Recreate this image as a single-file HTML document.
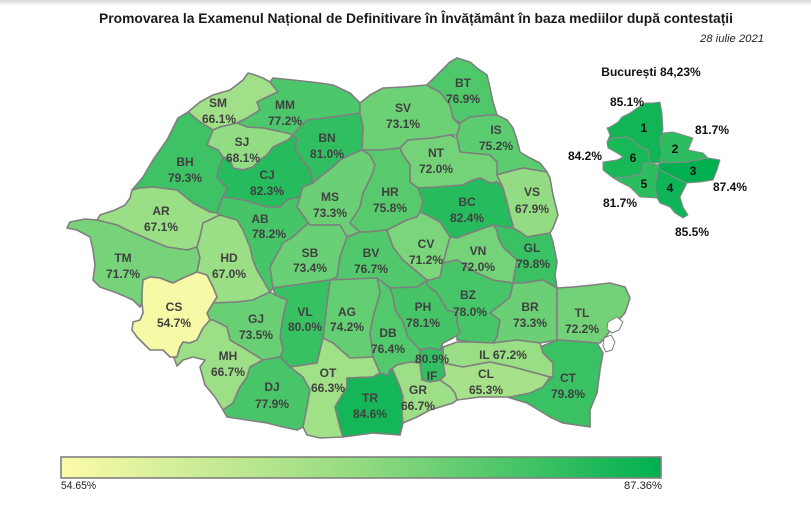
<!DOCTYPE html>
<html><head><meta charset="utf-8"><style>
html,body{margin:0;padding:0;background:#fff;}
svg{display:block;}
.l{font-family:"Liberation Sans",Arial,sans-serif;font-weight:bold;font-size:12px;fill:#404040;text-anchor:middle;}
.b{font-family:"Liberation Sans",Arial,sans-serif;font-weight:bold;font-size:12px;fill:#111;text-anchor:middle;}
</style></head><body>
<svg width="811" height="515" viewBox="0 0 811 515" xmlns="http://www.w3.org/2000/svg">
<defs>
<linearGradient id="lg" x1="0" x2="1" y1="0" y2="0">
<stop offset="0" stop-color="#fbfba8"/>
<stop offset="0.5" stop-color="#93da80"/>
<stop offset="1" stop-color="#00b050"/>
</linearGradient>
<linearGradient id="sh" x1="0" x2="0" y1="0" y2="1">
<stop offset="0" stop-color="#d8d8d8"/>
<stop offset="1" stop-color="#ffffff"/>
</linearGradient>
</defs>
<rect width="811" height="515" fill="#fff"/>
<rect width="811" height="6" fill="url(#sh)"/>

<text x="416" y="23" textLength="634" lengthAdjust="spacingAndGlyphs" text-anchor="middle" style="font-family:'Liberation Sans',Arial,sans-serif;font-weight:bold;font-size:14px;fill:#1a1a1a">Promovarea la Examenul Național de Definitivare în Învățământ în baza mediilor după contestații</text>
<text x="764" y="42" text-anchor="end" textLength="64" lengthAdjust="spacingAndGlyphs" style="font-family:'Liberation Sans',Arial,sans-serif;font-style:italic;font-size:11px;fill:#222">28 iulie 2021</text>

<g stroke="#7f7f7f" stroke-width="1.6" stroke-linejoin="round">
<!-- SM -->
<polygon fill="rgb(161,224,136)" points="188,112 200,102 213,95 230,90 243,80 248,73 255,75 263,78 270,82 278,92 267,97 257,102 260,110 247,118 237,123 220,127 213,130 200,122"/>
<!-- MM -->
<polygon fill="rgb(77,199,107)" points="237,123 247,118 260,110 257,102 267,97 278,92 270,82 273,78 293,80 320,83 333,85 350,93 360,103 360,113 333,117 307,120 300,127 293,135 287,133 263,128 247,127"/>
<!-- SJ -->
<polygon fill="rgb(146,220,131)" points="213,130 220,127 237,123 247,127 263,128 287,133 293,135 288,140 273,147 267,155 260,160 253,167 243,170 233,168 230,160 223,157 218,150 207,145"/>
<!-- BN -->
<polygon fill="rgb(48,190,97)" points="293,135 300,127 307,120 333,117 360,113 363,127 362,150 350,155 340,160 333,167 320,177 313,183 310,170 300,157 295,148 297,140"/>
<!-- CJ -->
<polygon fill="rgb(38,187,93)" points="233,168 243,170 253,167 260,160 267,155 273,147 288,140 293,135 297,140 295,148 300,157 310,170 313,183 303,187 300,197 287,200 280,207 267,207 243,200 223,197 227,188 217,178 218,170 223,157 230,160"/>
<!-- BH -->
<polygon fill="rgb(61,194,101)" points="178,118 188,112 200,122 213,130 207,145 218,150 223,157 218,170 217,178 227,188 223,197 217,213 210,212 193,203 177,190 153,187 140,188 132,190 143,177 153,160 167,140"/>
<!-- AR -->
<polygon fill="rgb(154,222,133)" points="132,190 140,188 153,187 177,190 193,203 210,212 217,213 220,215 203,223 200,237 197,247 187,250 167,247 157,243 143,237 127,230 117,225 97,220 100,215 115,210 125,205 130,198"/>
<!-- TM -->
<polygon fill="rgb(119,211,121)" points="97,220 117,225 127,230 143,237 157,243 167,247 187,250 197,247 200,258 197,272 183,278 173,283 160,278 150,277 143,280 142,293 142,303 140,307 133,300 117,293 100,287 93,280 95,265 93,250 90,237 77,230 67,228 70,222 85,219"/>
<!-- HD -->
<polygon fill="rgb(154,222,133)" points="220,215 237,220 243,230 250,247 253,260 257,270 263,280 270,292 253,300 237,302 213,303 217,297 213,287 207,275 197,272 200,258 197,247 200,237 203,223"/>
<!-- AB -->
<polygon fill="rgb(69,197,104)" points="217,213 223,197 243,200 267,207 280,207 287,200 300,197 297,207 310,225 293,237 283,243 270,267 273,288 270,292 263,280 257,270 253,260 250,247 243,230 237,220 220,215"/>
<!-- MS -->
<polygon fill="rgb(107,208,117)" points="313,183 320,177 333,167 340,160 350,155 362,150 370,155 375,165 372,175 363,193 360,207 350,223 360,232 347,237 340,225 310,225 297,207 300,197 303,187"/>
<!-- SV -->
<polygon fill="rgb(108,208,117)" points="360,103 370,95 383,88 403,87 427,85 430,87 440,92 450,105 453,118 460,125 457,135 450,135 433,138 408,140 400,148 380,150 362,150 363,127 360,113"/>
<!-- BT -->
<polygon fill="rgb(79,200,107)" points="427,85 437,75 450,62 457,58 470,62 477,68 487,75 490,88 493,102 497,115 490,115 470,117 460,123 453,118 450,105 440,92 430,87"/>
<!-- IS -->
<polygon fill="rgb(92,204,112)" points="453,118 460,123 470,117 490,115 497,115 507,120 513,128 517,140 520,152 530,158 540,163 547,172 523,168 507,172 497,175 497,162 490,155 460,152 457,138 457,135 460,125"/>
<!-- NT -->
<polygon fill="rgb(116,211,120)" points="400,148 408,140 433,138 450,135 457,138 460,152 490,155 497,162 497,175 503,188 497,182 490,183 480,178 473,180 463,185 437,187 418,188 410,182 410,165 403,155"/>
<!-- HR -->
<polygon fill="rgb(88,202,110)" points="362,150 380,150 400,148 403,155 410,165 410,182 418,188 423,202 420,212 417,217 407,220 387,230 367,232 360,232 350,223 360,207 363,193 372,175 375,165 370,155"/>
<!-- BC -->
<polygon fill="rgb(38,187,93)" points="418,188 437,187 463,185 473,180 480,178 490,183 497,182 503,188 507,202 510,215 513,225 510,228 493,225 473,232 457,238 450,237 440,222 427,215 420,212 423,202"/>
<!-- VS -->
<polygon fill="rgb(148,220,131)" points="497,175 507,172 523,168 547,172 550,178 553,195 558,215 553,228 550,233 527,237 520,232 513,228 513,225 510,215 507,202 503,188"/>
<!-- SB -->
<polygon fill="rgb(106,208,117)" points="270,267 283,243 293,237 308,223 310,225 340,225 347,237 340,257 337,277 330,280 273,288"/>
<!-- BV -->
<polygon fill="rgb(81,200,108)" points="347,237 360,232 367,232 387,230 393,247 403,260 427,280 417,287 390,288 377,278 330,280 337,277 340,257"/>
<!-- CV -->
<polygon fill="rgb(123,213,122)" points="387,230 407,220 417,217 420,212 427,215 440,222 450,237 443,263 440,277 430,280 427,280 403,260 393,247"/>
<!-- VN -->
<polygon fill="rgb(116,211,120)" points="450,237 457,238 473,232 493,225 497,230 498,237 503,247 517,260 513,283 493,280 477,273 457,260 443,263"/>
<!-- GL -->
<polygon fill="rgb(57,193,100)" points="493,225 510,228 513,228 520,232 527,237 550,233 553,242 557,262 555,275 557,288 543,280 523,283 513,283 517,260 503,247 498,237 497,230"/>
<!-- BZ -->
<polygon fill="rgb(71,197,105)" points="427,280 430,280 440,277 443,263 457,260 477,273 493,280 513,283 510,297 503,307 490,313 500,320 497,337 493,343 470,342 457,340 457,323 457,313 447,310 437,293 427,285"/>
<!-- PH -->
<polygon fill="rgb(70,197,104)" points="390,288 417,287 427,281 427,285 437,293 447,310 457,313 457,323 460,333 453,338 443,343 440,350 430,348 420,350 408,337 403,322 395,310 393,297"/>
<!-- BR -->
<polygon fill="rgb(107,208,117)" points="513,283 523,283 543,280 557,288 557,317 557,340 540,343 517,340 493,343 497,337 500,320 490,313 503,303 510,297"/>
<!-- TL -->
<polygon fill="rgb(115,210,120)" points="557,288 573,287 593,285 610,283 625,287 630,298 625,313 614,325 607,335 600,343 597,343 560,340 557,340 557,317"/>
<!-- CT -->
<polygon fill="rgb(57,193,100)" points="540,347 557,340 560,340 597,343 603,353 600,370 597,393 590,410 590,427 563,423 550,417 527,403 507,397 517,393 550,380 553,363 543,353"/>
<!-- IL -->
<polygon fill="rgb(153,222,133)" points="443,347 457,342 470,342 493,343 517,340 540,343 543,353 553,363 553,377 550,377 513,367 490,362 463,367 443,363"/>
<!-- CL -->
<polygon fill="rgb(167,226,138)" points="443,363 463,367 490,362 513,367 550,377 543,387 530,393 510,397 480,397 457,400 455,393 450,387 440,380 445,375"/>
<!-- IF -->
<polygon fill="rgb(49,191,97)" points="420,350 430,348 440,350 443,347 443,363 445,375 440,380 430,382 422,380 420,363"/>
<!-- DB -->
<polygon fill="rgb(83,201,109)" points="377,278 390,288 393,297 395,310 403,322 408,337 420,350 420,363 410,362 397,365 390,370 388,375 380,373 373,357 370,333 373,317 380,293"/>
<!-- AG -->
<polygon fill="rgb(100,206,115)" points="330,280 377,278 380,293 373,317 370,333 373,357 350,358 333,343 323,338 327,303"/>
<!-- VL -->
<polygon fill="rgb(56,193,99)" points="273,288 330,280 327,303 323,338 317,363 290,367 280,357 283,350 280,337 283,317 287,300 275,295"/>
<!-- GJ -->
<polygon fill="rgb(105,207,116)" points="207,313 213,303 237,302 253,300 270,292 275,295 287,300 283,317 280,337 283,350 280,357 263,360 247,350 230,340 227,327 213,320 210,320"/>
<!-- CS -->
<polygon fill="rgb(246,250,166)" points="143,280 150,277 160,278 170,282 173,283 183,278 197,272 207,275 213,287 217,297 213,303 207,313 210,320 203,328 197,340 190,343 183,342 180,347 177,357 170,357 163,350 150,350 143,343 137,337 132,330 133,322 140,320 143,313 142,303 142,293"/>
<!-- MH -->
<polygon fill="rgb(157,223,134)" points="180,347 183,342 190,343 197,340 203,328 210,320 213,320 227,327 230,340 247,350 263,360 250,367 247,377 240,387 233,403 223,410 215,397 205,385 200,367 205,360 193,357 183,360 177,366 174,358 177,357"/>
<!-- DJ -->
<polygon fill="rgb(72,197,105)" points="263,360 280,357 290,367 303,377 310,390 307,407 303,427 297,430 283,427 267,423 247,420 227,417 223,410 233,403 240,387 247,377 250,367"/>
<!-- OT -->
<polygon fill="rgb(160,224,135)" points="290,367 317,363 323,338 333,343 350,358 373,357 380,373 373,377 347,378 347,387 335,407 340,427 343,437 320,438 307,435 303,427 307,407 310,390 303,377"/>
<!-- TR -->
<polygon fill="rgb(21,182,87)" points="347,378 373,377 380,373 388,375 392,368 400,387 403,397 402,413 403,423 400,435 373,433 343,437 340,427 335,407 347,387"/>
<!-- GR -->
<polygon fill="rgb(157,223,134)" points="390,370 397,365 410,362 420,363 422,380 430,382 440,380 450,387 455,393 457,400 453,403 440,407 430,410 417,417 403,423 402,413 403,397 400,387 392,368"/>
</g>
<!-- delta lakes -->
<g fill="#fff" stroke="#7f7f7f" stroke-width="1">
<polygon points="608,322 617,317 623,322 619,330 612,333 607,329"/>
<polygon points="604,338 611,335 615,342 612,350 606,352 603,346"/>
</g>

<!-- Bucharest inset -->
<g stroke="#8a8a8a" stroke-width="1" stroke-linejoin="round">
<polygon fill="rgb(17,181,86)" points="607,128 610,127 618,122 622,117 630,113 637,108 645,103 653,103 660,102 662,113 663,130 660,140 662,153 660,163 650,163 648,150 640,147 633,140 627,137 613,138 607,142 610,135"/>
<polygon fill="rgb(43,189,95)" points="663,133 673,132 693,138 688,150 703,153 708,158 687,162 660,163 662,153 660,140"/>
<polygon fill="rgb(0,176,80)" points="660,163 687,162 708,158 720,160 717,170 713,180 700,182 687,183 680,180 670,175 660,170 658,165"/>
<polygon fill="rgb(14,180,85)" points="658,165 660,170 670,175 680,180 687,183 680,197 683,207 688,215 683,218 675,213 670,207 660,203 657,198 655,187"/>
<polygon fill="rgb(43,189,95)" points="643,163 650,163 658,165 655,187 657,198 640,197 630,187 620,182 613,178 627,177 643,173"/>
<polygon fill="rgb(24,183,88)" points="607,142 613,138 627,137 633,140 640,147 648,150 650,163 643,163 643,173 627,177 613,178 603,170 603,162 617,160 623,157 617,153 608,148"/>
</g>
<g class="b">
<text x="651" y="76">București 84,23%</text>
<text x="627" y="106">85.1%</text>
<text x="712" y="134">81.7%</text>
<text x="585" y="160">84.2%</text>
<text x="730" y="191">87.4%</text>
<text x="620" y="207">81.7%</text>
<text x="692" y="236">85.5%</text>
<text x="644" y="132">1</text>
<text x="675" y="153">2</text>
<text x="693" y="175">3</text>
<text x="670" y="192">4</text>
<text x="644" y="188">5</text>
<text x="633" y="162">6</text>
</g>

<!-- county labels -->
<g class="l">
<text x="218" y="107">SM</text><text x="219" y="123">66.1%</text>
<text x="285" y="109">MM</text><text x="285" y="125">77.2%</text>
<text x="242" y="146">SJ</text><text x="243" y="162">68.1%</text>
<text x="327" y="142">BN</text><text x="327" y="158">81.0%</text>
<text x="185" y="166">BH</text><text x="185" y="182">79.3%</text>
<text x="267" y="179">CJ</text><text x="267" y="195">82.3%</text>
<text x="161" y="215">AR</text><text x="161" y="231">67.1%</text>
<text x="260" y="223">AB</text><text x="269" y="238">78.2%</text>
<text x="330" y="201">MS</text><text x="330" y="217">73.3%</text>
<text x="463" y="87">BT</text><text x="463" y="103">76.9%</text>
<text x="403" y="112">SV</text><text x="403" y="128">73.1%</text>
<text x="496" y="134">IS</text><text x="496" y="150">75.2%</text>
<text x="436" y="157">NT</text><text x="436" y="173">72.0%</text>
<text x="390" y="196">HR</text><text x="390" y="212">75.8%</text>
<text x="467" y="206">BC</text><text x="467" y="222">82.4%</text>
<text x="532" y="196">VS</text><text x="532" y="213">67.9%</text>
<text x="123" y="262">TM</text><text x="123" y="278">71.7%</text>
<text x="229" y="262">HD</text><text x="229" y="278">67.0%</text>
<text x="310" y="257">SB</text><text x="310" y="272">73.4%</text>
<text x="371" y="257">BV</text><text x="371" y="273">76.7%</text>
<text x="426" y="248">CV</text><text x="426" y="264">71.2%</text>
<text x="478" y="255">VN</text><text x="478" y="271">72.0%</text>
<text x="532" y="252">GL</text><text x="533" y="268">79.8%</text>
<text x="174" y="311">CS</text><text x="174" y="327">54.7%</text>
<text x="256" y="323">GJ</text><text x="256" y="339">73.5%</text>
<text x="305" y="316">VL</text><text x="305" y="331">80.0%</text>
<text x="347" y="316">AG</text><text x="347" y="331">74.2%</text>
<text x="423" y="311">PH</text><text x="423" y="327">78.1%</text>
<text x="468" y="299">BZ</text><text x="470" y="316">78.0%</text>
<text x="530" y="311">BR</text><text x="530" y="327">73.3%</text>
<text x="582" y="317">TL</text><text x="582" y="333">72.2%</text>
<text x="388" y="337">DB</text><text x="388" y="353">76.4%</text>
<text x="228" y="360">MH</text><text x="228" y="376">66.7%</text>
<text x="272" y="391">DJ</text><text x="272" y="408">77.9%</text>
<text x="328" y="377">OT</text><text x="328" y="392">66.3%</text>
<text x="432" y="363">80.9%</text><text x="432" y="380">IF</text>
<text x="503" y="359">IL 67.2%</text>
<text x="486" y="378">CL</text><text x="486" y="394">65.3%</text>
<text x="568" y="382">CT</text><text x="568" y="398">79.8%</text>
<text x="370" y="402">TR</text><text x="370" y="418">84.6%</text>
<text x="418" y="394">GR</text><text x="418" y="410">66.7%</text>
</g>

<!-- legend -->
<rect x="61" y="457" width="600" height="21" fill="url(#lg)" stroke="#808080" stroke-width="1.6"/>
<text x="61" y="489" textLength="35" lengthAdjust="spacingAndGlyphs" style="font-family:'Liberation Sans',Arial,sans-serif;font-size:11px;fill:#222">54.65%</text>
<text x="662" y="489" text-anchor="end" textLength="38" lengthAdjust="spacingAndGlyphs" style="font-family:'Liberation Sans',Arial,sans-serif;font-size:11px;fill:#222">87.36%</text>
</svg>
</body></html>
